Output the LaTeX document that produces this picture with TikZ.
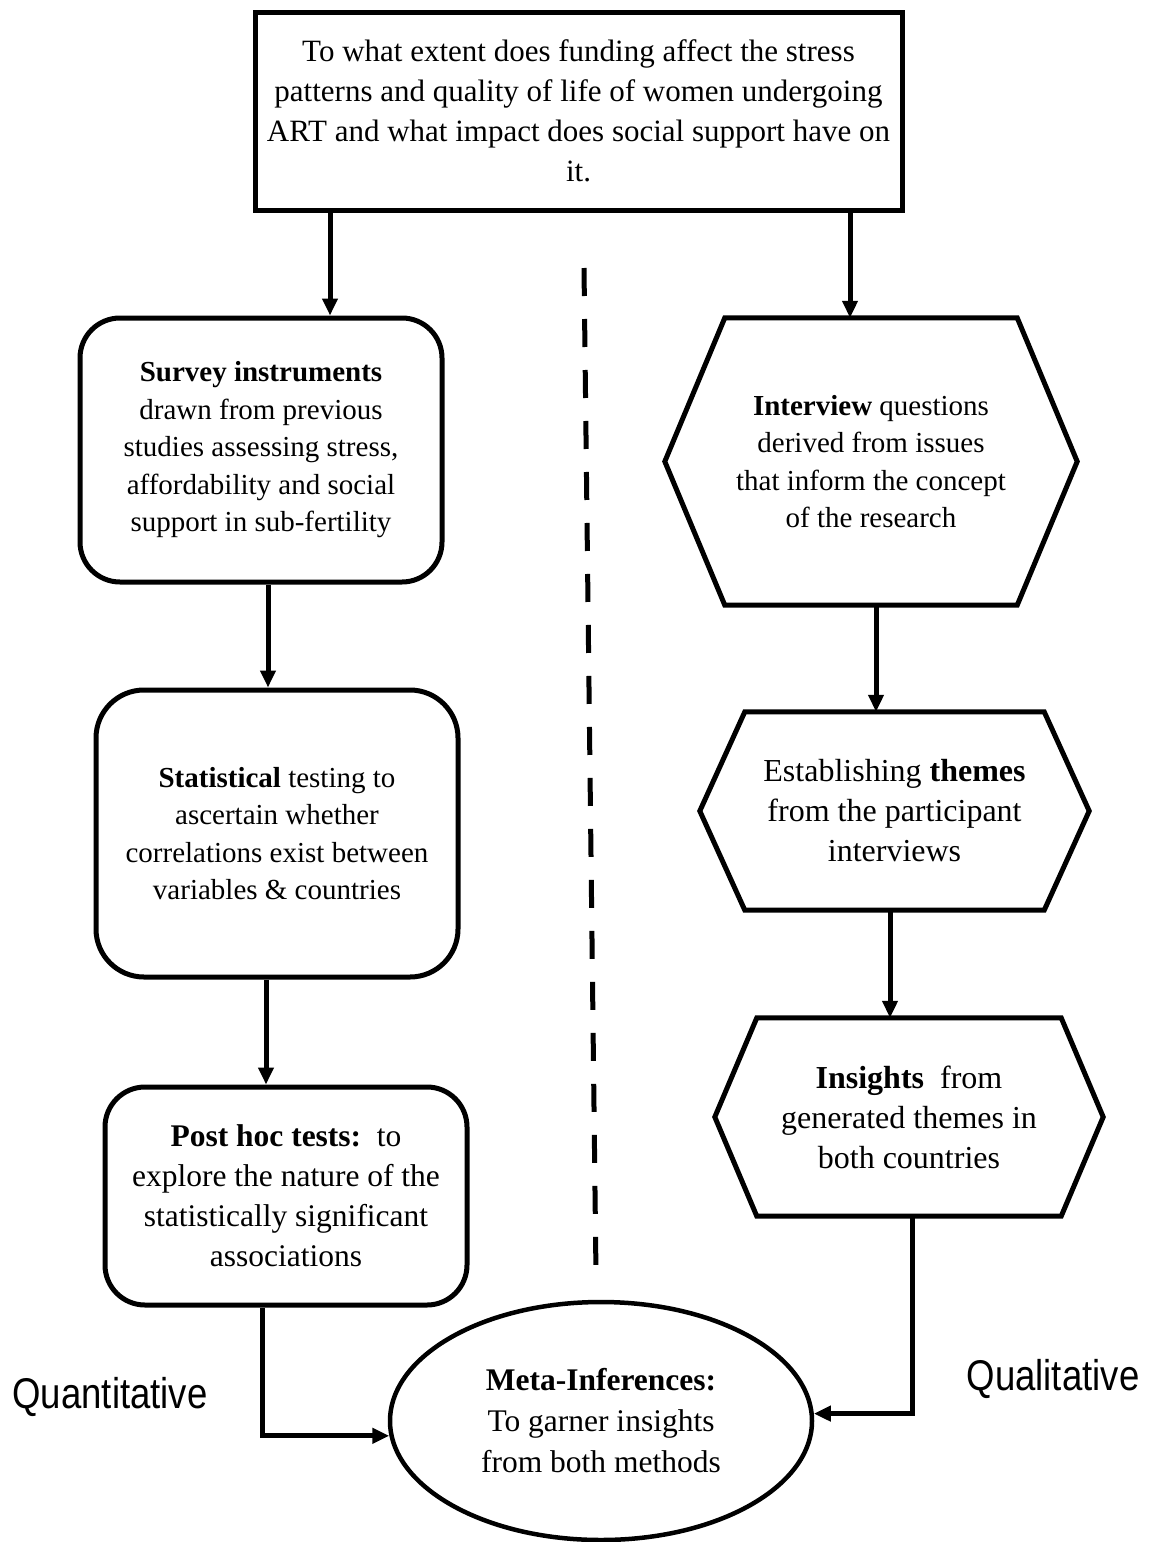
\documentclass[tikz,border=0pt]{standalone}
\usepackage{fontspec}
\setmainfont{Liberation Serif}
\newfontfamily\labelfont{Liberation Sans}[FakeStretch=0.85]
\usetikzlibrary{arrows.meta,shapes.geometric,calc}

\tikzset{
  outline/.style={draw=black, line width=5pt},
  txt/.style={align=center, inner sep=0pt, font=\fontsize{29}{37.5}\selectfont},
  fs/.style 2 args={font=\fontsize{#1}{#2}\selectfont},
  roundbox/.style={outline, txt, rounded corners=#1},
  hexframe/.style={txt},
  hexline/.style={outline, line join=miter},
  arr/.style={line width=5pt, -{Triangle[length=17pt,width=15pt]}},
  dashline/.style={line width=5pt, dash pattern=on 28pt off 23pt},
  methodlabel/.style={font=\labelfont\fontsize{43}{50}\selectfont, inner sep=0pt}
}

% hexagon drawn around a (frameless) node: #1 = node name, #2 = horizontal inset of the top and bottom edges
\newcommand{\hexaround}[2]{%
  \draw[hexline] ($(#1.north west)+(#2,0)$) -- ($(#1.north east)-(#2,0)$) -- (#1.east)
    -- ($(#1.south east)-(#2,0)$) -- ($(#1.south west)+(#2,0)$) -- (#1.west) -- cycle;}

\begin{document}
\begin{tikzpicture}[x=1pt, y=-1pt]
  \useasboundingbox[fill=white] (0,0) rectangle (1151,1542);

  % research question
  \node[outline, txt, fs={31}{40}, minimum width=647pt, minimum height=198pt] (question) at (578.5,111)
    {To what extent does funding affect the stress\\
     patterns and quality of life of women undergoing\\
     ART and what impact does social support have on\\
     it.};

  % quantitative strand
  \node[roundbox=40pt, minimum width=362pt, minimum height=264pt] (survey) at (261,450)
    {\textbf{Survey instruments}\\
     drawn from previous\\
     studies assessing stress,\\
     affordability and social\\
     support in sub-fertility};

  \node[roundbox=48pt, minimum width=362pt, minimum height=287pt] (stats) at (277,833.5)
    {\textbf{Statistical} testing to\\
     ascertain whether\\
     correlations exist between\\
     variables \& countries};

  \node[roundbox=40pt, fs={31.5}{40}, minimum width=362pt, minimum height=218pt] (posthoc) at (286,1196)
    {\textbf{Post hoc tests:}\ \ to\\
     explore the nature of the\\
     statistically significant\\
     associations};

  % qualitative strand
  \node[hexframe, minimum width=412pt, minimum height=287pt] (interview) at (871,461.5)
    {\textbf{Interview} questions\\
     derived from issues\\
     that inform the concept\\
     of the research};
  \hexaround{interview}{60}

  \node[hexframe, fs={32}{40}, minimum width=389pt, minimum height=198pt] (themes) at (894.5,811)
    {Establishing \textbf{themes}\\
     from the participant\\
     interviews};
  \hexaround{themes}{45}

  \node[hexframe, fs={32}{40}, minimum width=388pt, minimum height=198pt] (insights) at (909,1117)
    {\textbf{Insights}\ \ from\\
     generated themes in\\
     both countries};
  \hexaround{insights}{42}

  % integration
  \node[ellipse, draw=black, line width=4.5pt, txt, fs={31.5}{41}, minimum width=422pt, minimum height=238pt] (meta) at (601,1421)
    {\textbf{Meta-Inferences:}\\
     To garner insights\\
     from both methods};

  % side labels
  \node[methodlabel] (quant) at (110,1397) {Quantitative};
  \node[methodlabel] (qual) at (1053,1379) {Qualitative};

  % dividing line between the strands
  \coordinate (divtop) at (584,268);
  \coordinate (divbottom) at (596,1275);
  \draw[dashline] (divtop) -- (divbottom);

  % connectors
  \draw[arr] ([xshift=69]survey.north |- question.south) -- ([xshift=69]survey.north);
  \draw[arr] ([xshift=-21]interview.north |- question.south) -- ([xshift=-21]interview.north);
  \draw[arr] ([xshift=7]survey.south) -- ([xshift=7]survey.south |- stats.north);
  \draw[arr] ([xshift=-11]stats.south) -- ([xshift=-11]stats.south |- posthoc.north);
  \draw[arr] ([xshift=5]interview.south) -- ([xshift=5]interview.south |- themes.north);
  \draw[arr] ([xshift=-4.5]themes.south) -- ([xshift=-4.5]themes.south |- insights.north);
  \draw[arr] ([xshift=-24]posthoc.south) |- (meta.184);
  \draw[arr] ([xshift=3]insights.south) |- (meta.2);
\end{tikzpicture}
\end{document}
